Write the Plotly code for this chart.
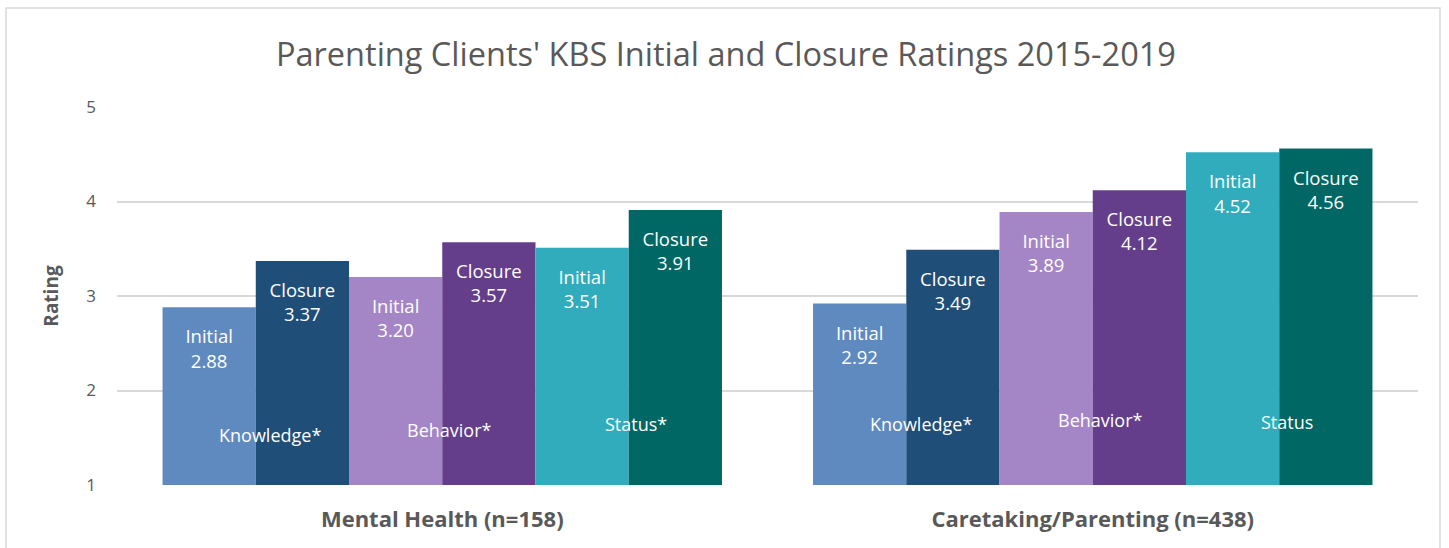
import plotly.graph_objects as go

# ── Data ──────────────────────────────────────────────────────────────────────
groups = ["Mental Health (n=158)", "Caretaking/Parenting (n=438)"]
series_names = ["Knowledge Initial", "Knowledge Closure",
                "Behavior Initial", "Behavior Closure",
                "Status Initial", "Status Closure"]
series_kind = ["Initial", "Closure", "Initial", "Closure", "Initial", "Closure"]
series_values = [
    [2.88, 2.92],
    [3.37, 3.49],
    [3.20, 3.89],
    [3.57, 4.12],
    [3.51, 4.52],
    [3.91, 4.56],
]
series_colors = ["#5F8ABF", "#1F4E78", "#A486C6", "#643E8A", "#31ACBC", "#006764"]

domain_labels = [
    ["Knowledge*", "Behavior*", "Status*"],
    ["Knowledge*", "Behavior*", "Status"],
]
domain_label_y = [[1.53, 1.58, 1.65], [1.65, 1.69, 1.67]]
domain_label_shift = [-172, 7, 194]

FONT = "Open Sans"
GREY = "#595959"

fig = go.Figure()
for i, (name, vals, col) in enumerate(zip(series_names, series_values, series_colors)):
    fig.add_trace(go.Bar(
        x=groups, y=vals, name=name,
        offsetgroup=str(i),
        marker=dict(color=col, line=dict(width=0)),
        showlegend=False,
    ))

# value labels: text-only scatter aligned to the bar slots, hung below each bar top
for i, (kind, vals) in enumerate(zip(series_kind, series_values)):
    fig.add_trace(go.Scatter(
        x=groups, y=vals,
        offsetgroup=str(i),
        mode="markers+text",
        marker=dict(size=34, color="rgba(0,0,0,0)"),
        text=[f"{kind}<br>{v:.2f}" for v in vals],
        textposition="bottom center",
        textfont=dict(color="white", size=18.5, family=FONT),
        hoverinfo="skip",
        showlegend=False,
    ))

annotations = []
for gi, g in enumerate(groups):
    for li, lab in enumerate(domain_labels[gi]):
        annotations.append(dict(
            x=g, y=domain_label_y[gi][li], xref="x", yref="y",
            text=lab, showarrow=False, xshift=domain_label_shift[li],
            font=dict(color="white", size=18, family=FONT),
        ))

fig.update_layout(
    width=1449, height=548,
    paper_bgcolor="white", plot_bgcolor="white",
    margin=dict(l=117, r=31, t=107, b=63),
    barmode="group", bargap=0.14, bargroupgap=0,
    scattermode="group", scattergap=0.14,
    title=dict(
        text="Parenting Clients' KBS Initial and Closure Ratings 2015-2019",
        x=0.501, xref="container", xanchor="center", y=0.9, yanchor="middle",
        font=dict(size=32.5, color=GREY, family=FONT),
    ),
    font=dict(family=FONT, color=GREY),
    xaxis=dict(
        showgrid=False, showline=False, ticks="",
        tickfont=dict(size=22, color=GREY, family=FONT),
        tickprefix="<b>", ticksuffix="</b>",
        ticklabelstandoff=19,
    ),
    yaxis=dict(
        range=[1, 5], dtick=1, showgrid=True, gridcolor="#D9D9D9", gridwidth=1.5,
        zeroline=False, showline=False, ticks="",
        tickfont=dict(size=17, color=GREY, family=FONT),
        ticklabelstandoff=20,
        title=dict(text="<b>Rating</b>", font=dict(size=19, color=GREY, family=FONT), standoff=22),
    ),
    annotations=annotations,
    shapes=[dict(
        type="rect", xref="paper", yref="paper",
        x0=-0.0853, x1=1.0169, y0=-0.2, y1=1.262,
        line=dict(color="#D9D9D9", width=1.5), fillcolor="rgba(0,0,0,0)",
        layer="below",
    )],
)

fig.write_html("out.html", config={"displayModeBar": False},
               post_script="document.body.style.margin='0';")
